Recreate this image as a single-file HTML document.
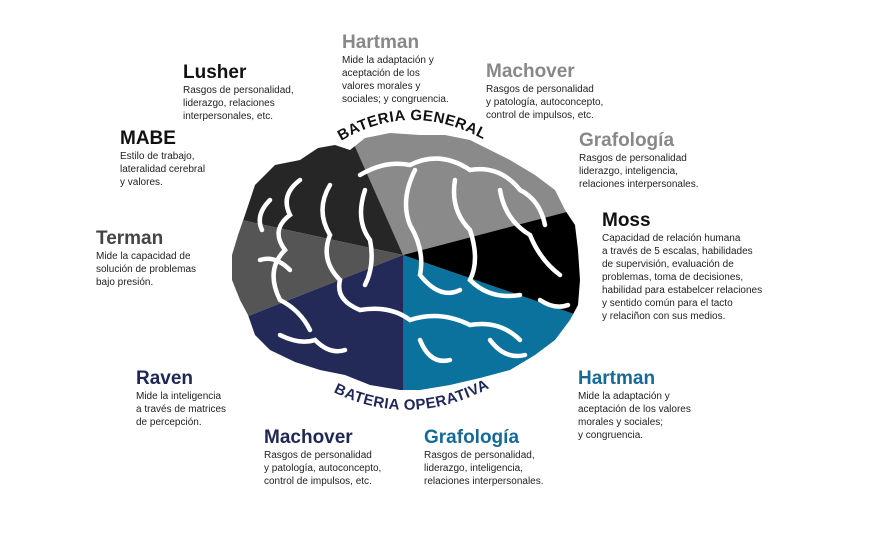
<!DOCTYPE html>
<html><head><meta charset="utf-8"><style>
body{margin:0;background:#fff;width:871px;height:548px;position:relative;overflow:hidden;font-family:"Liberation Sans",sans-serif}
.b{position:absolute;font-size:10px;line-height:13px;color:#222}
.b h{display:block;font-weight:bold;font-size:19px;line-height:21px;margin-bottom:1px}
.g h{color:#888}.k h{color:#111}.d h{color:#444}.n h{color:#1f2756}.t h{color:#156a97}
svg{position:absolute;left:0;top:0}
</style></head><body>
<svg width="871" height="548" viewBox="0 0 871 548">
<defs>
<clipPath id="br"><polygon points="245,215 255,185 275,165 300,160 318,148 335,145 350,150 365,138 390,133 420,135 445,135 470,140 490,150 510,160 535,175 555,190 565,210 575,225 578,250 580,280 578,305 570,320 555,340 535,355 510,370 480,378 450,385 420,390 400,390 370,385 345,375 320,370 295,362 270,350 255,335 248,315 240,300 232,280 232,255 238,235"/></clipPath>
<path id="a1" d="M330,148 Q410,93 495,146"/>
<path id="a2" d="M315,382 Q410,440 508,377"/>
</defs>
<g clip-path="url(#br)">
<polygon points="403,255 330,90 620,90 620,198" fill="#8a8a8a"/>
<polygon points="403,255 330,90 200,90 200,211" fill="#262626"/>
<polygon points="403,255 200,211 200,335" fill="#555"/>
<polygon points="403,255 200,335 200,450 403,450" fill="#232a57"/>
<polygon points="403,255 403,450 620,450 620,330" fill="#0a729d"/>
<polygon points="403,255 620,330 620,198" fill="#000"/>
<g fill="none" stroke="#fff" stroke-width="4.5" stroke-linecap="round">
<path d="M360,175 Q385,160 410,165 Q440,150 470,170 Q500,165 520,190 Q540,200 545,225"/>
<path d="M300,180 Q280,195 290,215 Q270,230 285,250 Q265,270 280,300 Q300,310 310,330"/>
<path d="M330,185 Q315,210 330,235 Q320,260 340,280 Q335,300 360,310 Q390,305 410,320 Q440,310 470,325 Q500,320 520,340"/>
<path d="M365,190 Q355,220 370,240 Q375,265 365,285"/>
<path d="M415,170 Q400,200 410,225 Q425,250 420,275 Q440,300 460,290"/>
<path d="M455,180 Q450,210 470,230 Q480,260 470,280 Q490,300 520,295"/>
<path d="M500,190 Q505,220 530,235 Q540,260 560,275"/>
<path d="M260,260 Q275,255 290,270"/>
<path d="M280,335 Q300,345 315,340 Q330,355 345,350"/>
<path d="M420,340 Q430,365 450,360"/>
<path d="M490,340 Q505,360 525,355"/>
<path d="M540,300 Q555,310 568,305"/>
<path d="M270,200 Q255,215 262,230"/>
</g>
</g>
<g font-family="Liberation Sans,sans-serif" font-weight="bold" font-size="15" letter-spacing="0.5">
<text fill="#111"><textPath href="#a1" startOffset="50%" text-anchor="middle">BATERIA GENERAL</textPath></text>
<text fill="#1f2756"><textPath href="#a2" startOffset="50%" text-anchor="middle">BATERIA OPERATIVA</textPath></text>
</g>
</svg>
<div class="b g" style="left:342px;top:32px"><h>Hartman</h>Mide la adaptación y<br>aceptación de los<br>valores morales y<br>sociales; y congruencia.</div>
<div class="b k" style="left:183px;top:62px"><h>Lusher</h>Rasgos de personalidad,<br>liderazgo, relaciones<br>interpersonales, etc.</div>
<div class="b g" style="left:486px;top:61px"><h>Machover</h>Rasgos de personalidad<br>y patología, autoconcepto,<br>control de impulsos, etc.</div>
<div class="b k" style="left:120px;top:128px"><h>MABE</h>Estilo de trabajo,<br>lateralidad cerebral<br>y valores.</div>
<div class="b g" style="left:579px;top:130px"><h>Grafología</h>Rasgos de personalidad<br>liderazgo, inteligencia,<br>relaciones interpersonales.</div>
<div class="b k" style="left:602px;top:210px"><h>Moss</h>Capacidad de relación humana<br>a través de 5 escalas, habilidades<br>de supervisión, evaluación de<br>problemas, toma de decisiones,<br>habilidad para estabelcer relaciones<br>y sentido común para el tacto<br>y relaciñon con sus medios.</div>
<div class="b d" style="left:96px;top:228px"><h>Terman</h>Mide la capacidad de<br>solución de problemas<br>bajo presión.</div>
<div class="b n" style="left:136px;top:368px"><h>Raven</h>Mide la inteligencia<br>a través de matrices<br>de percepción.</div>
<div class="b t" style="left:578px;top:368px"><h>Hartman</h>Mide la adaptación y<br>aceptación de los valores<br>morales y sociales;<br>y congruencia.</div>
<div class="b n" style="left:264px;top:427px"><h>Machover</h>Rasgos de personalidad<br>y patología, autoconcepto,<br>control de impulsos, etc.</div>
<div class="b t" style="left:424px;top:427px"><h>Grafología</h>Rasgos de personalidad,<br>liderazgo, inteligencia,<br>relaciones interpersonales.</div>
</body></html>
